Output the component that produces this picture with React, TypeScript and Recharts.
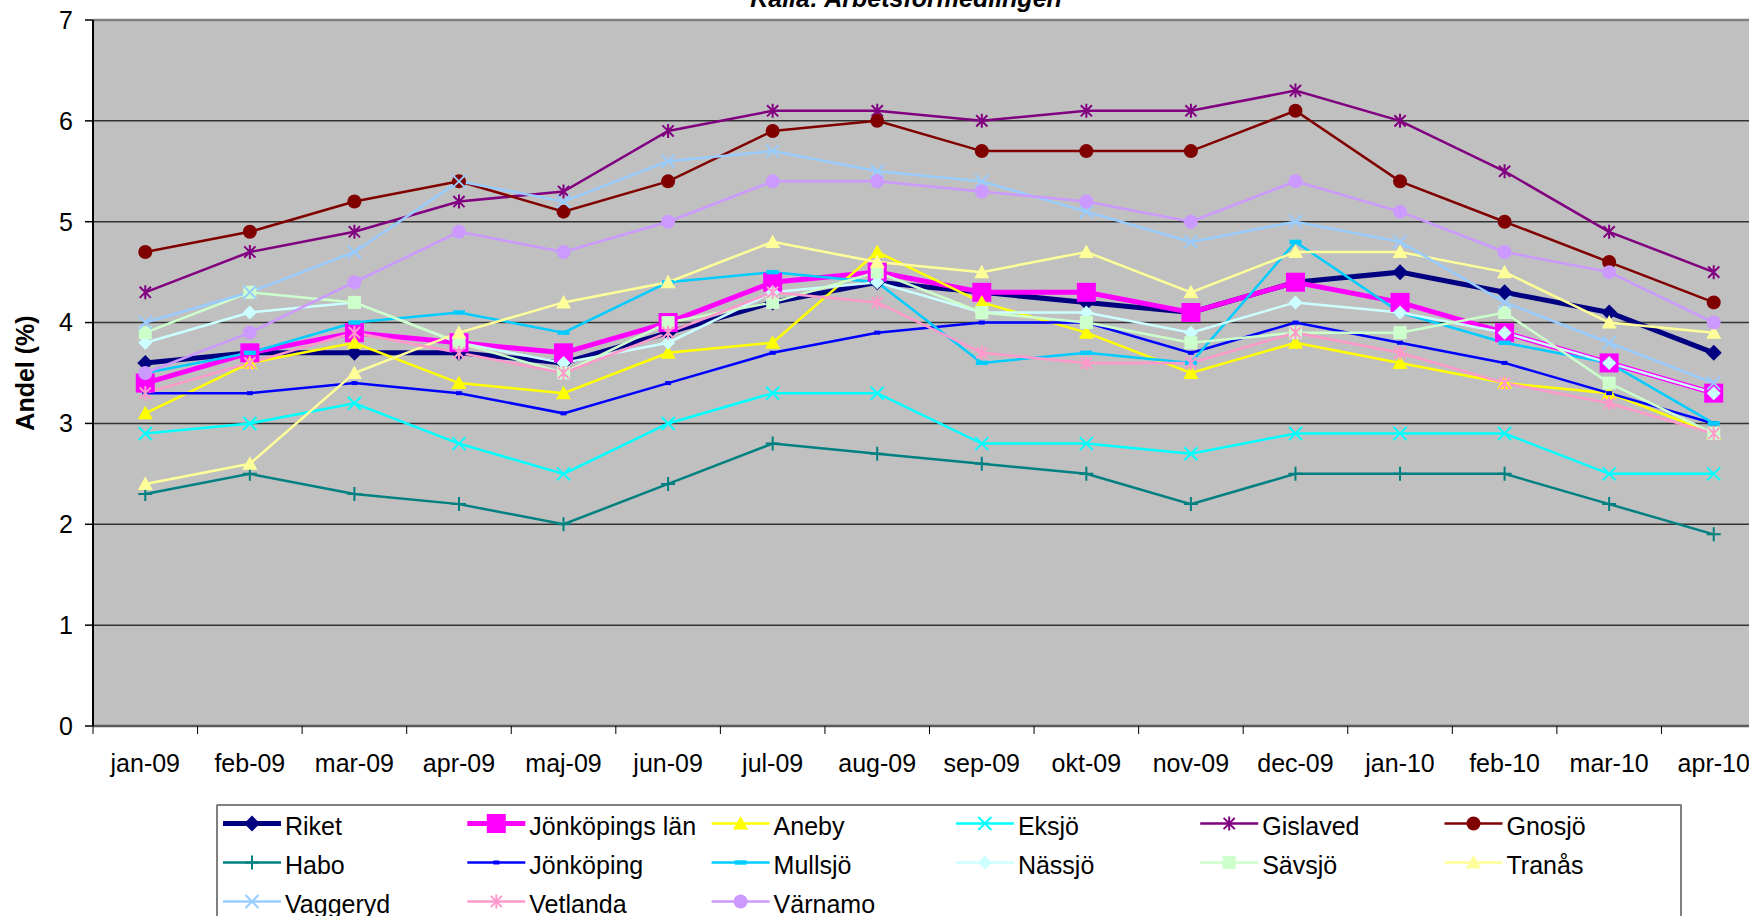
import React from "react";
import { LineChart, Line, XAxis, YAxis, CartesianGrid, ReferenceLine, Label } from "recharts";

// Andel (%) per månad, läst ur diagrammet
const MONTHS = ["jan-09", "feb-09", "mar-09", "apr-09", "maj-09", "jun-09", "jul-09", "aug-09", "sep-09", "okt-09", "nov-09", "dec-09", "jan-10", "feb-10", "mar-10", "apr-10"];
const Y_TICKS = [0, 1, 2, 3, 4, 5, 6, 7];

const RIKET = [3.6, 3.7, 3.7, 3.7, 3.6, 3.9, 4.2, 4.4, 4.3, 4.2, 4.1, 4.4, 4.5, 4.3, 4.1, 3.7];
const JKPG_LAN = [3.4, 3.7, 3.9, 3.8, 3.7, 4.0, 4.4, 4.5, 4.3, 4.3, 4.1, 4.4, 4.2, 3.9, 3.6, 3.3];
const ANEBY = [3.1, 3.6, 3.8, 3.4, 3.3, 3.7, 3.8, 4.7, 4.2, 3.9, 3.5, 3.8, 3.6, 3.4, 3.3, 2.9];
const EKSJO = [2.9, 3.0, 3.2, 2.8, 2.5, 3.0, 3.3, 3.3, 2.8, 2.8, 2.7, 2.9, 2.9, 2.9, 2.5, 2.5];
const GISLAVED = [4.3, 4.7, 4.9, 5.2, 5.3, 5.9, 6.1, 6.1, 6.0, 6.1, 6.1, 6.3, 6.0, 5.5, 4.9, 4.5];
const GNOSJO = [4.7, 4.9, 5.2, 5.4, 5.1, 5.4, 5.9, 6.0, 5.7, 5.7, 5.7, 6.1, 5.4, 5.0, 4.6, 4.2];
const HABO = [2.3, 2.5, 2.3, 2.2, 2.0, 2.4, 2.8, 2.7, 2.6, 2.5, 2.2, 2.5, 2.5, 2.5, 2.2, 1.9];
const JKPG = [3.3, 3.3, 3.4, 3.3, 3.1, 3.4, 3.7, 3.9, 4.0, 4.0, 3.7, 4.0, 3.8, 3.6, 3.3, 3.0];
const MULLSJO = [3.5, 3.7, 4.0, 4.1, 3.9, 4.4, 4.5, 4.4, 3.6, 3.7, 3.6, 4.8, 4.1, 3.8, 3.6, 3.0];
const NASSJO = [3.8, 4.1, 4.2, 3.8, 3.6, 3.8, 4.3, 4.4, 4.1, 4.1, 3.9, 4.2, 4.1, 3.9, 3.6, 3.3];
const SAVSJO = [3.9, 4.3, 4.2, 3.8, 3.5, 4.0, 4.2, 4.5, 4.1, 4.0, 3.8, 3.9, 3.9, 4.1, 3.4, 2.9];
const TRANAS = [2.4, 2.6, 3.5, 3.9, 4.2, 4.4, 4.8, 4.6, 4.5, 4.7, 4.3, 4.7, 4.7, 4.5, 4.0, 3.9];
const VAGGERYD = [4.0, 4.3, 4.7, 5.4, 5.2, 5.6, 5.7, 5.5, 5.4, 5.1, 4.8, 5.0, 4.8, 4.2, 3.8, 3.4];
const VETLANDA = [3.3, 3.6, 3.9, 3.7, 3.5, 3.9, 4.3, 4.2, 3.7, 3.6, 3.6, 3.9, 3.7, 3.4, 3.2, 2.9];
const VARNAMO = [3.5, 3.9, 4.4, 4.9, 4.7, 5.0, 5.4, 5.4, 5.3, 5.2, 5.0, 5.4, 5.1, 4.7, 4.5, 4.0];

type Shape = "diamond" | "square" | "triangle" | "x" | "star" | "circle" | "plus" | "dot" | "dash";

interface SeriesDef {
  name: string;
  values: number[];
  color: string;
  shape: Shape;
  size: number;
  width: number;
}

const SERIES: SeriesDef[] = [
  { name: "Riket", values: RIKET, color: "#000080", shape: "diamond", size: 16, width: 5 },
  { name: "Jönköpings län", values: JKPG_LAN, color: "#FF00FF", shape: "square", size: 19, width: 5 },
  { name: "Aneby", values: ANEBY, color: "#FFFF00", shape: "triangle", size: 15, width: 2.5 },
  { name: "Eksjö", values: EKSJO, color: "#00FFFF", shape: "x", size: 13, width: 2.5 },
  { name: "Gislaved", values: GISLAVED, color: "#800080", shape: "star", size: 14, width: 2.5 },
  { name: "Gnosjö", values: GNOSJO, color: "#800000", shape: "circle", size: 14, width: 2.5 },
  { name: "Habo", values: HABO, color: "#008080", shape: "plus", size: 14, width: 2.5 },
  { name: "Jönköping", values: JKPG, color: "#0000FF", shape: "dot", size: 6, width: 2.5 },
  { name: "Mullsjö", values: MULLSJO, color: "#00CCFF", shape: "dash", size: 12, width: 2.5 },
  { name: "Nässjö", values: NASSJO, color: "#CCFFFF", shape: "diamond", size: 14, width: 2.5 },
  { name: "Sävsjö", values: SAVSJO, color: "#CCFFCC", shape: "square", size: 13, width: 2.5 },
  { name: "Tranås", values: TRANAS, color: "#FFFF99", shape: "triangle", size: 15, width: 2.5 },
  { name: "Vaggeryd", values: VAGGERYD, color: "#99CCFF", shape: "x", size: 13, width: 2.5 },
  { name: "Vetlanda", values: VETLANDA, color: "#FF99CC", shape: "star", size: 14, width: 2.5 },
  { name: "Värnamo", values: VARNAMO, color: "#CC99FF", shape: "circle", size: 14, width: 2.5 },
];

const data = MONTHS.map((m, i) => {
  const row: Record<string, string | number> = { month: m };
  SERIES.forEach((s, k) => {
    row["s" + k] = s.values[i];
  });
  return row;
});

// layout
const W = 1749;
const H = 916;
const CHART_W = 1800;
const PLOT_TOP = 20;
const PLOT_BOTTOM = 726;
const PLOT_LEFT = 93;
const PLOT_RIGHT = 1766;
const BAND = (PLOT_RIGHT - PLOT_LEFT) / MONTHS.length;
const FONT = "'Liberation Sans', Arial, sans-serif";

function Marker({ shape, cx, cy, color, size }: { shape: Shape; cx: number; cy: number; color: string; size: number }) {
  const h = size / 2;
  switch (shape) {
    case "diamond":
      return <polygon points={`${cx},${cy - h} ${cx + h},${cy} ${cx},${cy + h} ${cx - h},${cy}`} fill={color} />;
    case "square":
      return <rect x={cx - h} y={cy - h} width={size} height={size} fill={color} />;
    case "triangle":
      return <polygon points={`${cx},${cy - h} ${cx + h},${cy + h * 0.8} ${cx - h},${cy + h * 0.8}`} fill={color} />;
    case "x":
      return <path d={`M${cx - h},${cy - h}L${cx + h},${cy + h}M${cx - h},${cy + h}L${cx + h},${cy - h}`} stroke={color} strokeWidth={2} />;
    case "star":
      return (
        <path
          d={`M${cx - h * 0.8},${cy - h * 0.8}L${cx + h * 0.8},${cy + h * 0.8}M${cx - h * 0.8},${cy + h * 0.8}L${cx + h * 0.8},${cy - h * 0.8}M${cx},${cy - h}L${cx},${cy + h}`}
          stroke={color}
          strokeWidth={2}
        />
      );
    case "circle":
      return <circle cx={cx} cy={cy} r={h} fill={color} />;
    case "plus":
      return <path d={`M${cx},${cy - h}L${cx},${cy + h}M${cx - h},${cy}L${cx + h},${cy}`} stroke={color} strokeWidth={2} />;
    case "dot":
      return <rect x={cx - 3} y={cy - 2} width={6} height={4} fill={color} />;
    case "dash":
      return <rect x={cx - h} y={cy - 2.2} width={size} height={4.4} fill={color} />;
  }
  return null;
}

const XTick = (props: any) => {
  const { x, payload } = props;
  return (
    <g>
      <line x1={x - BAND / 2} x2={x - BAND / 2} y1={PLOT_BOTTOM} y2={PLOT_BOTTOM + 8} stroke="#000" strokeWidth={1} />
      <text x={x} y={PLOT_BOTTOM + 46} textAnchor="middle" fontSize={25} fill="#000" fontFamily={FONT}>
        {payload.value}
      </text>
    </g>
  );
};

function LegendBox() {
  const left = 217;
  const top = 805;
  return (
    <g>
      <rect x={left} y={top} width={1464} height={140} fill="#fff" stroke="#000" strokeWidth={1} />
      <line x1={left} x2={left + 1464} y1={top} y2={top} stroke="#808080" strokeWidth={2} />
      {SERIES.map((s, i) => {
        const col = i % 6;
        const row = Math.floor(i / 6);
        const x = 223 + col * 244.3;
        const y = 823.5 + row * 39;
        return (
          <g key={s.name}>
            <line x1={x} x2={x + 58} y1={y} y2={y} stroke={s.color} strokeWidth={s.width} />
            <Marker shape={s.shape} cx={x + 29} cy={y} color={s.color} size={s.size} />
            <text x={x + 62} y={y + 11.5} fontSize={25} fill="#000" fontFamily={FONT}>
              {s.name}
            </text>
          </g>
        );
      })}
    </g>
  );
}

export default function App() {
  return (
    <div style={{ position: "fixed", left: 0, top: 0, width: W, height: H, overflow: "hidden", background: "#fff", fontFamily: FONT }}>
      <LineChart width={CHART_W} height={H} data={data} margin={{ top: PLOT_TOP, right: CHART_W - PLOT_RIGHT, bottom: 0, left: 0 }}>
        <CartesianGrid vertical={false} stroke="#333" strokeWidth={1.5} fill="#C0C0C0" fillOpacity={1} />
        <XAxis
          dataKey="month"
          scale="point"
          padding={{ left: BAND / 2, right: BAND / 2 }}
          height={H - PLOT_BOTTOM}
          interval={0}
          tickLine={false}
          tick={<XTick />}
          axisLine={{ stroke: "#595959", strokeWidth: 2.5 }}
        />
        <YAxis
          domain={[0, 7]}
          ticks={Y_TICKS}
          width={PLOT_LEFT}
          tickSize={8}
          tickMargin={12}
          tick={{ fill: "#000", fontSize: 25 }}
          tickLine={{ stroke: "#000", strokeWidth: 1.5 }}
          axisLine={{ stroke: "#000", strokeWidth: 2 }}
          allowDecimals={false}
        >
          <Label
            content={() => (
              <text x={33.5} y={373} transform="rotate(-90, 33.5, 373)" textAnchor="middle" fontSize={25} fontWeight="bold" fill="#000" fontFamily={FONT}>
                Andel (%)
              </text>
            )}
          />
        </YAxis>
        <ReferenceLine y={7} stroke="#808080" strokeWidth={2.5} />
        {SERIES.map((s, k) => (
          <Line
            key={s.name}
            dataKey={"s" + k}
            name={s.name}
            stroke={s.color}
            strokeWidth={s.width}
            isAnimationActive={false}
            activeDot={false}
            legendType="none"
            dot={(p: any) => <Marker key={`${k}-${p.index}`} shape={s.shape} cx={p.cx} cy={p.cy} color={s.color} size={s.size} />}
          />
        ))}
      </LineChart>
      <svg width={W} height={H} style={{ position: "absolute", left: 0, top: 0, pointerEvents: "none" }}>
        <text x={906} y={7} textAnchor="middle" fontSize={25} fontWeight="bold" fontStyle="italic" fill="#000" fontFamily={FONT}>
          Källa: Arbetsförmedlingen
        </text>
        <LegendBox />
      </svg>
    </div>
  );
}
